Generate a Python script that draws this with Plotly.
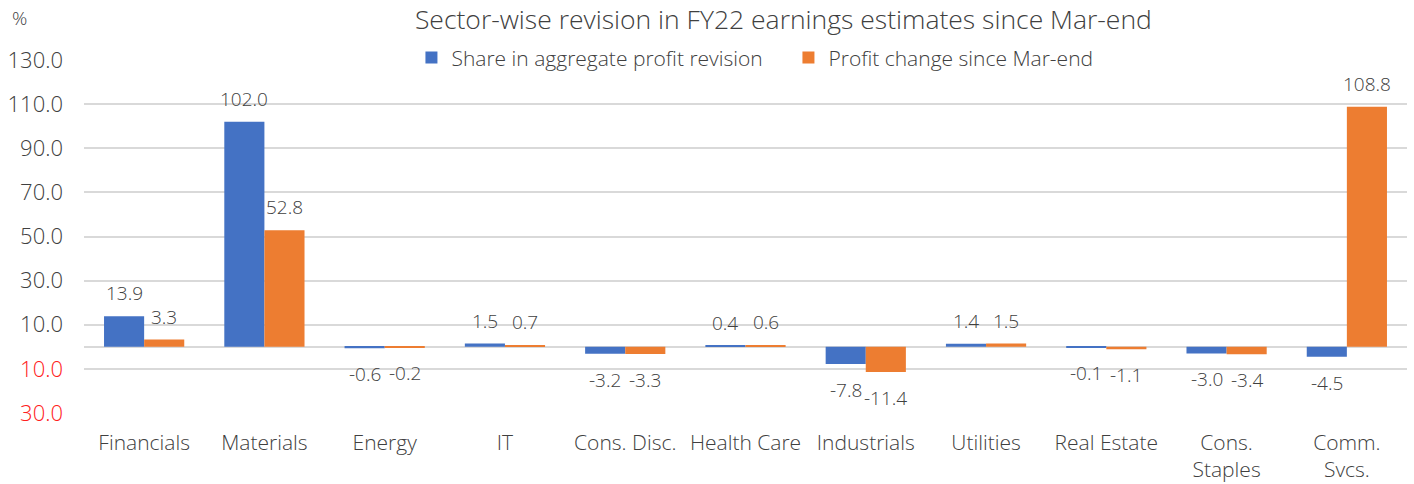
import plotly.graph_objects as go

categories = ["Financials", "Materials", "Energy", "IT", "Cons. Disc.", "Health Care",
              "Industrials", "Utilities", "Real Estate", "Cons.<br>Staples", "Comm.<br>Svcs."]
share_revision = [13.9, 102.0, -0.6, 1.5, -3.2, 0.4, -7.8, 1.4, -0.1, -3.0, -4.5]
profit_change = [3.3, 52.8, -0.2, 0.7, -3.3, 0.6, -11.4, 1.5, -1.1, -3.4, 108.8]
series_names = ["Share in aggregate profit revision", "Profit change since Mar-end"]
series_colors = ["#4472C4", "#ED7D31"]
tick_vals = [-30, -10, 10, 30, 50, 70, 90, 110, 130]
tick_text = ['<span style="color:#FF2020">30.0</span>', '<span style="color:#FF2020">10.0</span>',
             "10.0", "30.0", "50.0", "70.0", "90.0", "110.0", "130.0"]

FONT = "Open Sans"
TXT = "#404040"
W = 300
BARGAP = 0.333

fig = go.Figure()
for i, (vals, name, col) in enumerate(zip([share_revision, profit_change], series_names, series_colors)):
    fig.add_trace(go.Bar(x=categories, y=vals, name=name, offsetgroup=str(i),
                         marker=dict(color=col, line=dict(width=0))))

fig.update_layout(
    width=1414, height=484,
    margin=dict(l=84, r=7, t=60, b=71, autoexpand=False),
    paper_bgcolor="white", plot_bgcolor="white",
    font=dict(family=FONT, size=18, color=TXT, weight=W),
    barmode="group", bargap=BARGAP, bargroupgap=0,
    title=dict(text="Sector-wise revision in FY22 earnings estimates since Mar-end",
               x=0.554, xanchor="center", y=0.959, yanchor="middle",
               font=dict(size=26.5, color=TXT, family=FONT, weight=W)),
    legend=dict(orientation="h", x=0.2475, xanchor="left", y=1.006, yanchor="middle",
                bgcolor="rgba(0,0,0,0)", font=dict(size=21, color=TXT, family=FONT, weight=W),
                itemwidth=30, traceorder="normal", entrywidth=332, entrywidthmode="pixels"),
    showlegend=True,
)

# data labels placed at each bar end
half = (1 - BARGAP) / 4
for i, vals in enumerate([share_revision, profit_change]):
    for j, v in enumerate(vals):
        fig.add_annotation(x=j + (-half if i == 0 else half), y=v, xref="x", yref="y",
                           text=f"{v:.1f}", showarrow=False, xanchor="center", yanchor="middle",
                           yshift=23 if v >= 0 else -26,
                           font=dict(size=19, color=TXT, family=FONT, weight=W))

fig.update_xaxes(type="category", showgrid=False, showline=False, ticks="",
                 ticklabelstandoff=15, tickfont=dict(size=21, color=TXT, family=FONT, weight=W))
fig.update_yaxes(range=[-30, 130], tickvals=tick_vals, ticktext=tick_text,
                 showgrid=True, gridcolor="#D9D9D9", gridwidth=1.5,
                 zeroline=True, zerolinecolor="#D9D9D9", zerolinewidth=1.5,
                 showline=False, ticks="", ticklabelstandoff=20,
                 tickfont=dict(size=22, color=TXT, family=FONT, weight=W))
fig.add_annotation(text="%", xref="paper", yref="paper", x=-0.0484, y=1.119,
                   xanchor="center", yanchor="middle", showarrow=False,
                   font=dict(size=19, color=TXT, family=FONT, weight=W))
fig.write_html("out.html", config={"displayModeBar": False},
               post_script="document.body.style.margin='0';document.body.style.overflow='hidden';")
